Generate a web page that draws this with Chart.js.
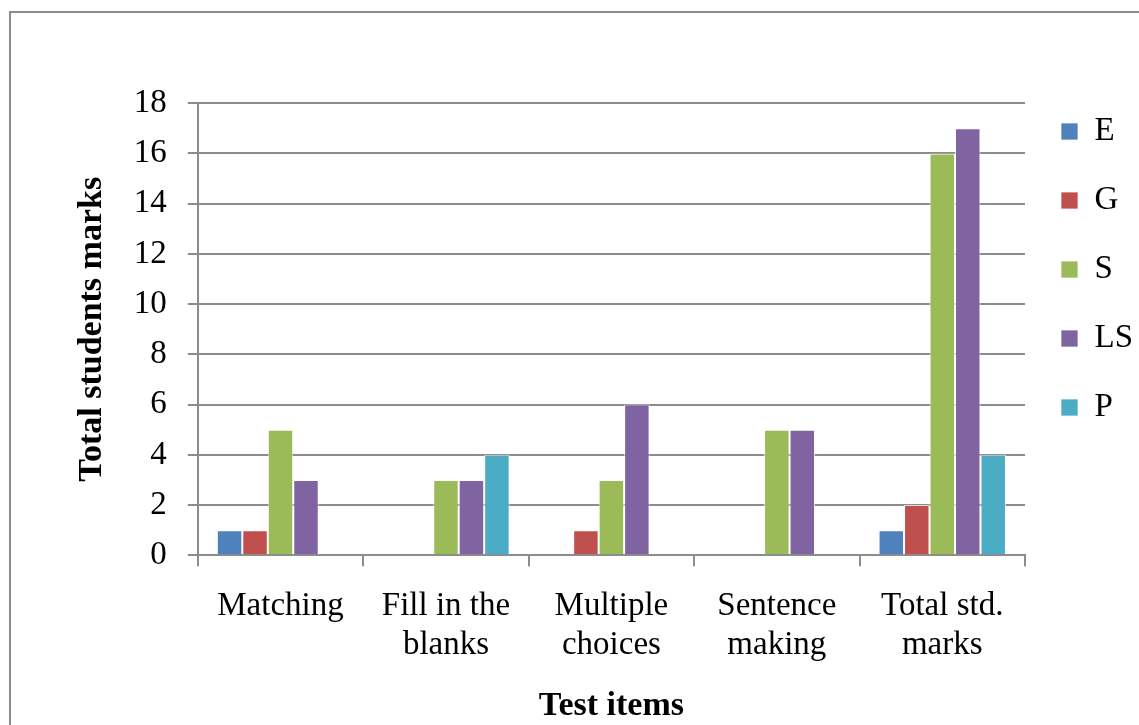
<!DOCTYPE html>
<html lang="en">
<head>
    <meta charset="UTF-8">
    <title>Total students marks by test item</title>
    <script src="https://cdn.jsdelivr.net/npm/chart.js"></script>
    <style>
        html, body { margin: 0; padding: 0; background: #fff; overflow: hidden; }
        #frame { position: absolute; left: 9px; top: 11px; width: 1300px; height: 900px; border: 2px solid #8c8c8c; }
        #wrap { position: absolute; left: 0; top: 0; width: 1139px; height: 725px; }
    </style>
</head>
<body>
<div id="frame"></div>
<div id="wrap"><canvas id="marksChart"></canvas></div>

<script>
    // categories (x axis)
    const testItems = [
        "Matching", ["Fill in the", "blanks"], ["Multiple", "choices"],
        ["Sentence", "making"], ["Total std.", "marks"]
    ];
    // series values per grade
    const gradeE  = [1, 0, 0, 0, 1];
    const gradeG  = [1, 0, 1, 0, 2];
    const gradeS  = [5, 3, 3, 5, 16];
    const gradeLS = [3, 3, 6, 5, 17];
    const gradeP  = [0, 4, 0, 0, 4];

    const serif = "'Liberation Serif', 'Times New Roman', serif";
    const gridGray = "#8c8c8c";

    new Chart(document.getElementById("marksChart"), {
        type: 'bar',
        data: {
            labels: testItems,
            datasets: [
                { label: "E",  data: gradeE,  backgroundColor: "#4f81bd" },
                { label: "G",  data: gradeG,  backgroundColor: "#c0504d" },
                { label: "S",  data: gradeS,  backgroundColor: "#9bbb59" },
                { label: "LS", data: gradeLS, backgroundColor: "#8064a2" },
                { label: "P",  data: gradeP,  backgroundColor: "#4bacc6" }
            ]
        },
        options: {
            responsive: true,
            maintainAspectRatio: false,
            animation: false,
            datasets: {
                bar: {
                    categoryPercentage: 0.77,
                    barPercentage: 1.0,
                    borderWidth: 1,
                    borderColor: "rgba(255,255,255,0.7)"
                }
            },
            layout: { padding: { left: 72, top: 79, right: -4, bottom: -2 } },
            plugins: {
                // empty title only pushes the plot top down below the legend start
                title: { display: true, text: '', font: { size: 1 }, padding: { top: 23, bottom: 0 } },
                tooltip: { enabled: false },
                legend: {
                    position: 'right',
                    align: 'start',
                    labels: {
                        boxWidth: 17,
                        boxHeight: 17,
                        padding: 36,
                        color: "#000",
                        font: { family: serif, size: 33 }
                    }
                }
            },
            scales: {
                x: {
                    grid: {
                        drawOnChartArea: false,
                        tickLength: 11,
                        color: gridGray,
                        lineWidth: 2
                    },
                    border: { color: gridGray, width: 2 },
                    ticks: {
                        color: "#000",
                        padding: 21,
                        maxRotation: 0,
                        font: { family: serif, size: 33, lineHeight: 1.18 }
                    },
                    title: {
                        display: true,
                        text: "Test items",
                        color: "#000",
                        padding: 0,
                        font: { family: serif, size: 34, weight: 'bold' }
                    }
                },
                y: {
                    min: 0,
                    max: 18,
                    grid: { color: gridGray, lineWidth: 2, tickLength: 10 },
                    border: { color: gridGray, width: 2 },
                    ticks: {
                        stepSize: 2,
                        color: "#000",
                        padding: 21,
                        font: { family: serif, size: 33 }
                    },
                    title: {
                        display: true,
                        text: "Total students marks",
                        color: "#000",
                        padding: 0,
                        font: { family: serif, size: 34, weight: 'bold' }
                    }
                }
            }
        }
    });
</script>
</body>
</html>
